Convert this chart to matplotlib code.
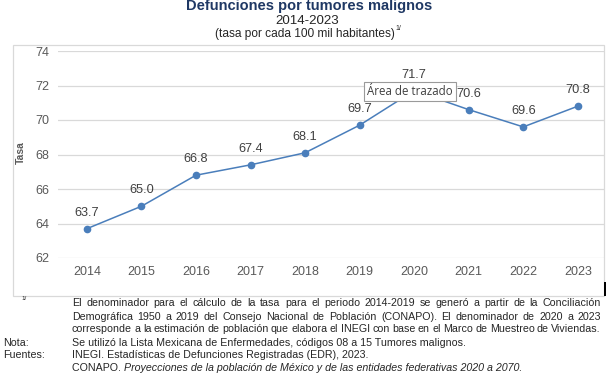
import matplotlib
matplotlib.use('Agg')
import matplotlib.pyplot as plt
from matplotlib.patches import Rectangle

plt.rcParams['font.family'] = ['Liberation Sans', 'DejaVu Sans']

# data
years = ['2014', '2015', '2016', '2017', '2018', '2019', '2020', '2021', '2022', '2023']
tasa = [63.7, 65.0, 66.8, 67.4, 68.1, 69.7, 71.7, 70.6, 69.6, 70.8]
y_ticks = [62, 64, 66, 68, 70, 72, 74]

title = 'Defunciones por tumores malignos'
subtitle1 = '2014-2023'
subtitle2 = '(tasa por cada 100 mil habitantes)'

nota_lines = [
    'El denominador para el cálculo de la tasa para el periodo 2014-2019 se generó a partir de la Conciliación',
    'Demográfica 1950 a 2019 del Consejo Nacional de Población (CONAPO). El denominador de 2020 a 2023',
    'corresponde a la estimación de población que elabora el INEGI con base en el Marco de Muestreo de Viviendas.',
]
nota = 'Se utilizó la Lista Mexicana de Enfermedades, códigos 08 a 15 Tumores malignos.'
fuente1 = 'INEGI. Estadísticas de Defunciones Registradas (EDR), 2023.'
fuente2a = 'CONAPO. '
fuente2b = 'Proyecciones de la población de México y de las entidades federativas 2020 a 2070.'

W, H = 614, 377
LINE = '#4A7EBB'
GRID = '#D9D9D9'
TICK = '#595959'


def fx(px):
    return px / W


def fy(py):
    return 1 - py / H


fig = plt.figure(figsize=(W / 100, H / 100), dpi=100)
ax = fig.add_axes([fx(58), fy(258), fx(604 - 58), (258 - 51) / H])

x = list(range(len(years)))
ax.plot(x, tasa, color=LINE, lw=1.1, marker='o', ms=4.5, zorder=3)
for xi, v in zip(x, tasa):
    ax.annotate(f'{v:.1f}', (xi, v), textcoords='offset points', xytext=(0, 11.5),
                ha='center', va='center', fontsize=9.2, color='#404040', zorder=4)

ax.set_xlim(-0.53, 9.48)
ax.set_ylim(62, 74)
ax.set_xticks(x)
ax.set_xticklabels(years)
ax.set_yticks(y_ticks)
ax.grid(axis='y', color=GRID, lw=0.9)
ax.set_axisbelow(True)
for s in ax.spines.values():
    s.set_visible(False)
ax.tick_params(axis='both', length=0, labelsize=9, labelcolor=TICK)
ax.tick_params(axis='y', pad=6.5)
ax.tick_params(axis='x', pad=6)
ax.set_ylabel('Tasa', fontsize=7.5, fontweight='bold', color=TICK)
ax.yaxis.set_label_coords(-0.058, 0.51)

# tooltip left over from the screenshot
fig.text(fx(410), fy(91.5), 'Área de trazado', ha='center', va='center', fontsize=8.3,
         family=['Open Sans', 'DejaVu Sans'], color='#404040', zorder=10,
         bbox=dict(boxstyle='square,pad=0.25', fc='white', ec='#9A9A9A', lw=0.8))

# chart border
fig.patches.append(Rectangle((fx(13), fy(296)), fx(604 - 13), (296 - 45) / H,
                             transform=fig.transFigure, fill=False, ec=GRID, lw=0.9))
fig.patches.append(Rectangle((fx(603.5), fy(295.5)), fx(2.5), 13.5 / H,
                             transform=fig.transFigure, fc='black', ec='none'))

# titles
fig.text(fx(309), fy(6), title, ha='center', va='center', fontsize=10.5,
         fontweight='bold', color='#1F3864')
fig.text(fx(307), fy(21), subtitle1, ha='center', va='center', fontsize=9.6, color='#262626')
st = fig.text(fx(305), fy(34), subtitle2, ha='center', va='center', fontsize=8.6, color='#262626')

fig.canvas.draw()
r = fig.canvas.get_renderer()
bb = st.get_window_extent(r)
fig.text(bb.x1 / W + 0.001, fy(29), '1/', ha='left', va='center', fontsize=5, color='#262626')


def justify(line, x0, x1, y, **kw):
    words = line.split()
    texts = [fig.text(0, fy(y), w, ha='left', va='center', **kw) for w in words]
    widths = [t.get_window_extent(r).width for t in texts]
    gap = (x1 - x0 - sum(widths)) / (len(words) - 1)
    pos = x0
    for t, w in zip(texts, widths):
        t.set_x(fx(pos))
        pos += w + gap


fs = 7.65
col = '#262626'
fig.text(fx(21), fy(299), '1/', fontsize=4.5, color=col, ha='left', va='center')
for i, line in enumerate(nota_lines):
    justify(line, 72, 601, 303.5 + 13 * i, fontsize=fs, color=col)
fig.text(fx(3), fy(342.5), 'Nota:', fontsize=fs, color=col, ha='left', va='center')
fig.text(fx(72), fy(342.5), nota, fontsize=fs, color=col, ha='left', va='center')
fig.text(fx(3), fy(355.5), 'Fuentes:', fontsize=fs, color=col, ha='left', va='center')
fig.text(fx(72), fy(355.5), fuente1, fontsize=fs, color=col, ha='left', va='center')
t2 = fig.text(fx(72), fy(368), fuente2a, fontsize=fs, color=col, ha='left', va='center')
w2 = t2.get_window_extent(r).width
fig.text(fx(72 + w2), fy(368), fuente2b, fontsize=fs, color=col, ha='left', va='center',
         style='italic')

fig.savefig('out.png', dpi=100, facecolor='white')
